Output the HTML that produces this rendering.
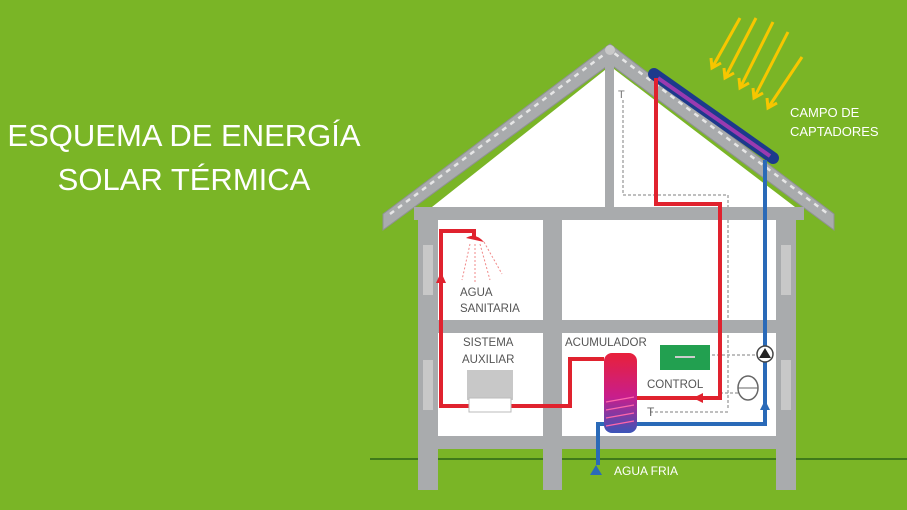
<!DOCTYPE html>
<html><head><meta charset="utf-8"><style>
html,body{margin:0;padding:0;background:#7ab526;}
svg{display:block}
</style></head><body>
<svg width="907" height="510" viewBox="0 0 907 510" xmlns="http://www.w3.org/2000/svg" font-family="Liberation Sans, sans-serif">
<defs>
<linearGradient id="tank" x1="0" y1="0" x2="0" y2="1">
<stop offset="0" stop-color="#e8203a"/><stop offset="0.55" stop-color="#c81e8c"/><stop offset="1" stop-color="#3a55b8"/>
</linearGradient>
</defs>
<rect width="907" height="510" fill="#7ab526"/>
<text x="184" y="146" fill="#fff" font-size="31" text-anchor="middle">ESQUEMA DE ENERGÍA</text>
<text x="184" y="190" fill="#fff" font-size="31" text-anchor="middle">SOLAR TÉRMICA</text>
<line x1="370" y1="459" x2="907" y2="459" stroke="#3f7a1a" stroke-width="2"/>
<polygon points="432,207 610,66 795,207" fill="#fff"/>
<rect x="438" y="218" width="340" height="104" fill="#fff"/>
<rect x="438" y="332" width="340" height="105" fill="#fff"/>
<polygon points="383,214 610,44 834,214 834,230 610,64 383,230" fill="#a9abad" stroke="#8f9193" stroke-width="1"/>
<polyline points="390,214 610,50 828,214" fill="none" stroke="#e6e6e6" stroke-width="2.5" stroke-dasharray="5 5"/>
<circle cx="610" cy="50" r="5" fill="#c9c9c9"/>
<rect x="605" y="62" width="9" height="146" fill="#a9abad"/>
<rect x="414" y="207" width="390" height="13" fill="#a9abad"/>
<rect x="428" y="320" width="362" height="13" fill="#a9abad"/>
<rect x="428" y="436" width="362" height="13" fill="#a9abad"/>
<rect x="418" y="220" width="20" height="270" fill="#a9abad"/>
<rect x="776" y="220" width="20" height="270" fill="#a9abad"/>
<rect x="543" y="220" width="19" height="270" fill="#a9abad"/>
<rect x="423" y="245" width="10" height="50" fill="#c8c8c8"/>
<rect x="423" y="360" width="10" height="50" fill="#c8c8c8"/>
<rect x="781" y="245" width="10" height="50" fill="#c8c8c8"/>
<rect x="781" y="360" width="10" height="50" fill="#c8c8c8"/>
<g stroke="#f7c600" stroke-width="3" fill="none">
<line x1="740" y1="18" x2="712" y2="68"/><polyline points="711,58 712,68 721,63"/>
<line x1="756" y1="18" x2="725" y2="78"/><polyline points="724,68 725,78 734,73"/>
<line x1="773" y1="22" x2="740" y2="88"/><polyline points="739,78 740,88 749,83"/>
<line x1="788" y1="32" x2="754" y2="98"/><polyline points="753,88 754,98 763,93"/>
<line x1="802" y1="57" x2="768" y2="108"/><polyline points="767,98 768,108 777,103"/>
</g>
<text x="790" y="117" fill="#fff" font-size="13">CAMPO DE</text>
<text x="790" y="136" fill="#fff" font-size="13">CAPTADORES</text>
<g stroke="#aaa" stroke-width="1.5" fill="none" stroke-dasharray="3 2">
<polyline points="623,100 623,195 728,195 728,410"/>
<polyline points="720,393 748,393"/>
<polyline points="650,412 728,412"/>
<polyline points="712,355 760,355"/>
</g>
<text x="618" y="98" fill="#777" font-size="11">T</text>
<line x1="654" y1="74" x2="773" y2="158" stroke="#1c3a8c" stroke-width="12" stroke-linecap="round"/>
<line x1="658" y1="78" x2="770" y2="156" stroke="#9a3ab0" stroke-width="4"/>
<polyline points="656,78 656,204 720,204 720,398 614,398" fill="none" stroke="#e0222e" stroke-width="4"/>
<polygon points="693,398 703,393 703,403" fill="#e0222e"/>
<polyline points="765,160 765,424 598,424 598,465" fill="none" stroke="#2a6ab8" stroke-width="4"/>
<polygon points="765,400 760,410 770,410" fill="#2a6ab8"/>
<polygon points="596,465 590,475 602,475" fill="#2a6ab8"/>
<circle cx="765" cy="354" r="8" fill="#fff" stroke="#444" stroke-width="1.5"/>
<polygon points="765,348 759,358 771,358" fill="#222"/>
<ellipse cx="748" cy="388" rx="10" ry="12" fill="#fff" stroke="#666" stroke-width="1.5"/>
<line x1="738" y1="388" x2="758" y2="388" stroke="#666"/>
<rect x="604" y="353" width="33" height="80" rx="8" fill="url(#tank)"/>
<g stroke="#f6a" stroke-width="1.2"><line x1="606" y1="402" x2="634" y2="397"/><line x1="606" y1="410" x2="634" y2="405"/><line x1="606" y1="418" x2="634" y2="413"/><line x1="606" y1="426" x2="634" y2="421"/></g>
<text x="647" y="416" fill="#666" font-size="12">T</text>
<polyline points="604,359 570,359 570,406 441,406 441,231 474,231 474,238" fill="none" stroke="#e0222e" stroke-width="4"/>
<polygon points="441,272 436,283 446,283" fill="#e0222e"/>
<path d="M466,238 Q475,232 484,242 Z" fill="#e0222e"/>
<g stroke="#f08888" stroke-width="1" stroke-dasharray="2 2"><line x1="470" y1="244" x2="462" y2="280"/><line x1="475" y1="244" x2="475" y2="282"/><line x1="480" y1="244" x2="490" y2="280"/><line x1="484" y1="242" x2="502" y2="274"/></g>
<rect x="467" y="370" width="46" height="30" fill="#c8c8c8"/>
<rect x="469" y="398" width="42" height="14" fill="#fff" stroke="#bbb"/>
<rect x="660" y="345" width="50" height="25" fill="#22a050"/>
<line x1="675" y1="357" x2="695" y2="357" stroke="#ccc" stroke-width="2"/>
<g fill="#555" font-size="11.5">
<text x="460" y="296">AGUA</text><text x="460" y="312">SANITARIA</text>
<text x="463" y="346">SISTEMA</text><text x="462" y="363">AUXILIAR</text>
<text x="565" y="346">ACUMULADOR</text>
<text x="647" y="388">CONTROL</text>
</g>
<text x="614" y="475" fill="#fff" font-size="12">AGUA FRIA</text>
</svg>
</body></html>
